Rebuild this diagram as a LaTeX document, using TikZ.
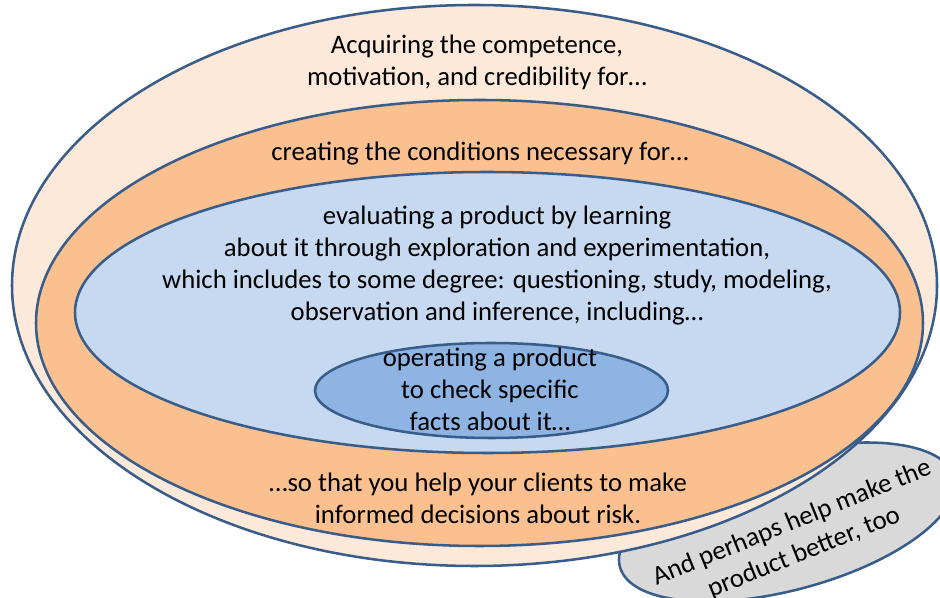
\documentclass[tikz,border=0pt]{standalone}
\usepackage{fontspec}
\setmainfont{Carlito}

\definecolor{peach}{HTML}{FDE9D9}
\definecolor{apricot}{HTML}{FAC090}
\definecolor{skyfill}{HTML}{C6D9F1}
\definecolor{corefill}{HTML}{8EB4E3}
\definecolor{greyfill}{HTML}{D9D9D9}
\definecolor{rim}{HTML}{385D8A}

\begin{document}
\begin{tikzpicture}[
    ring/.style={draw=rim, line width=1.8pt},
    txt/.style={align=center, inner sep=0pt, font=\fontsize{19}{22.75}\selectfont}]
    \clip (0, 0) rectangle (23.5, 14.925);

    % rings, from the outside in
    \draw[ring, fill=greyfill, rotate around={15:(19.675, 1.875)}] (19.675, 1.875) ellipse (4.325 and 1.7);
    \draw[ring, fill=peach] (11.8625, 7.7875) ellipse (11.5625 and 7.0125);
    \draw[ring, fill=apricot] (11.9875, 6.85) ellipse (11.0875 and 5.575);
    \draw[ring, fill=skyfill] (12.1875, 7.1125) ellipse (10.3125 and 3.5125);
    \draw[ring, fill=corefill] (12.2875, 5.1625) ellipse (4.4125 and 1.1875);

    \node[txt] at (11.925, 13.37)(competence){Acquiring the competence,\\motivation, and credibility for…};
    \node[txt] at (12.0, 11.09)(conditions){creating the conditions necessary for…};
    \node[txt] at (12.425, 8.28)(evaluating){evaluating a product by learning\\about it through exploration and experimentation,\\which includes to some degree: questioning, study, modeling,\\observation and inference, including…};
    \node[txt] at (12.25, 5.18)(operating){operating a product\\to check specific\\facts about it…};
    \node[txt] at (11.95, 2.47)(decisions){…so that you help your clients to make\\informed decisions about risk.};
    \node[txt, rotate=22] at (19.95, 1.48)(better){And perhaps help make the\\product better, too};
\end{tikzpicture}
\end{document}
